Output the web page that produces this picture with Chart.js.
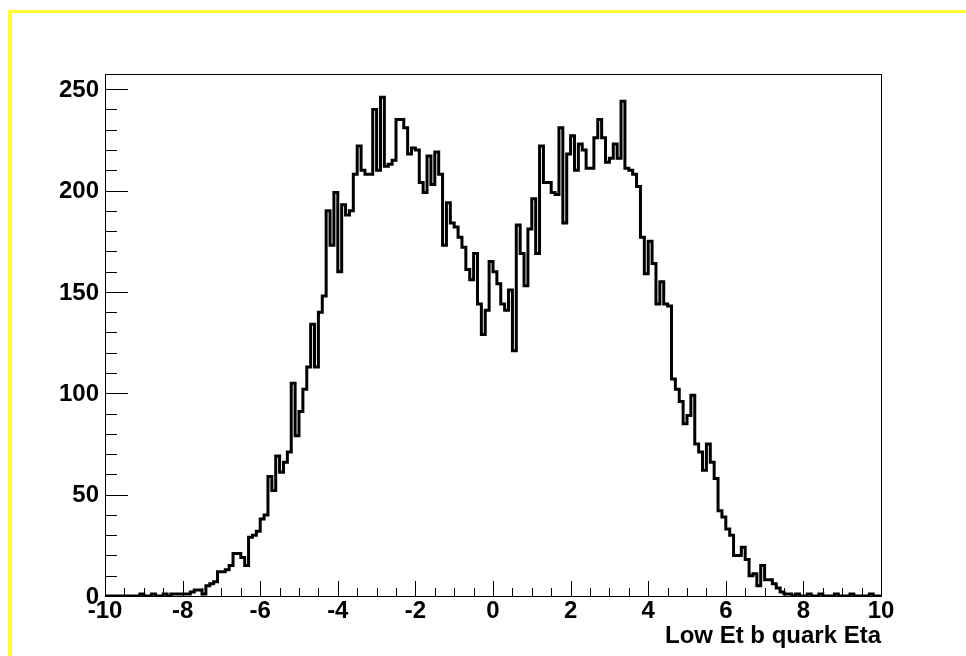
<!DOCTYPE html>
<html lang="en">
<head>
    <meta charset="UTF-8">
    <title>Low Et b quark Eta</title>
    <script src="https://cdn.jsdelivr.net/npm/chart.js@4.4.1/dist/chart.umd.min.js"></script>
    <style>
        html, body {
            margin: 0;
            padding: 0;
            background: #ffffff;
        }
        .page {
            position: relative;
            width: 966px;
            height: 656px;
            overflow: hidden;
        }
        .pad-border {
            position: absolute;
            left: 8px;
            top: 10px;
            width: 1100px;
            height: 800px;
            border-left: 4px solid #ffff33;
            border-top: 3px solid #ffff33;
        }
        #hist {
            position: absolute;
            left: 0;
            top: 0;
        }
    </style>
</head>
<body>
    <div class="page">
        <div class="pad-border"></div>
        <canvas id="hist" width="966" height="656"></canvas>
    </div>

    <script>
        // histogram range and contents (200 bins from -10 to 10)
        const xMin = -10;
        const xMax = 10;
        const yMin = 0;
        const yMax = 257.5;

        const counts = [
            0, 0, 0, 0, 0, 0, 0, 0, 0, 1,
            0, 0, 1, 0, 0, 1, 0, 1, 1, 1,
            1, 1, 2, 3, 3, 1, 5, 6, 7, 12,
            12, 13, 15, 21, 21, 19, 15, 29, 30, 32,
            38, 40, 59, 52, 69, 61, 66, 71, 105, 79,
            91, 102, 113, 134, 113, 140, 148, 190, 173, 199,
            160, 193, 188, 190, 208, 222, 210, 208, 208, 240,
            210, 246, 212, 213, 215, 235, 235, 231, 218, 221,
            220, 204, 199, 217, 203, 219, 208, 173, 194, 184,
            182, 177, 172, 161, 156, 169, 144, 129, 141, 165,
            160, 154, 144, 141, 151, 121, 183, 169, 153, 181,
            196, 169, 222, 204, 204, 199, 198, 231, 184, 218,
            227, 210, 223, 220, 211, 211, 226, 235, 226, 214,
            216, 223, 216, 244, 211, 210, 208, 202, 177, 159,
            175, 164, 144, 155, 144, 143, 107, 102, 96, 85,
            89, 99, 75, 71, 62, 75, 66, 58, 42, 39,
            33, 30, 20, 20, 24, 18, 10, 11, 5, 15,
            8, 8, 6, 4, 2, 1, 1, 0, 1, 0,
            0, 1, 0, 0, 1, 0, 0, 0, 1, 0,
            0, 0, 1, 0, 0, 0, 0, 1, 0, 0
        ];

        const xTickLabels = ['-10', '-8', '-6', '-4', '-2', '0', '2', '4', '6', '8', '10'];
        const yTickLabels = ['0', '50', '100', '150', '200', '250'];
        const xMinorStep = 0.5;
        const yMinorStep = 10;
        const xTitle = 'Low Et b quark Eta';

        // bin low edges, plus the last upper edge so the step closes at xMax
        const binWidth = (xMax - xMin) / counts.length;
        const points = counts.map((c, i) => ({ x: xMin + i * binWidth, y: c }));
        points.push({ x: xMax, y: counts[counts.length - 1] });

        const labelFont = 'bold 24px "Liberation Sans", Arial, sans-serif';

        // ROOT-like frame: box, inward ticks, labels and axis title
        const rootFrame = {
            id: 'rootFrame',
            afterDraw(chart) {
                const ctx = chart.ctx;
                const area = chart.chartArea;
                const xs = chart.scales.x;
                const ys = chart.scales.y;

                ctx.save();
                ctx.strokeStyle = '#000000';
                ctx.lineWidth = 1;
                ctx.strokeRect(Math.round(area.left) + 0.5, Math.round(area.top) + 0.5,
                    Math.round(area.right - area.left), Math.round(area.bottom - area.top));

                // x ticks: long ones at labelled values, short every half unit
                ctx.beginPath();
                for (let v = xMin; v <= xMax + 1e-9; v += xMinorStep) {
                    const px = Math.round(xs.getPixelForValue(v)) + 0.5;
                    const major = Math.abs(v - Math.round(v)) < 1e-9 && xTickLabels.includes(String(Math.round(v)));
                    const len = major ? 15 : 8;
                    ctx.moveTo(px, area.bottom);
                    ctx.lineTo(px, area.bottom - len);
                }
                // y ticks
                for (let v = yMin; v <= yMax + 1e-9; v += yMinorStep) {
                    const py = Math.round(ys.getPixelForValue(v)) + 0.5;
                    const major = yTickLabels.includes(String(v));
                    const len = major ? 23 : 12;
                    ctx.moveTo(area.left, py);
                    ctx.lineTo(area.left + len, py);
                }
                ctx.stroke();

                ctx.fillStyle = '#000000';
                ctx.font = labelFont;

                ctx.textAlign = 'center';
                ctx.textBaseline = 'top';
                xTickLabels.forEach(lbl => {
                    ctx.fillText(lbl, xs.getPixelForValue(parseFloat(lbl)), area.bottom + 3);
                });

                ctx.textAlign = 'right';
                ctx.textBaseline = 'middle';
                yTickLabels.forEach(lbl => {
                    ctx.fillText(lbl, area.left - 6, ys.getPixelForValue(parseFloat(lbl)) + 1);
                });

                ctx.textAlign = 'right';
                ctx.textBaseline = 'alphabetic';
                ctx.fillText(xTitle, area.right, area.bottom + 47);
                ctx.restore();
            }
        };

        new Chart(document.getElementById('hist'), {
            type: 'line',
            data: {
                datasets: [{
                    label: 'h1',
                    data: points,
                    stepped: 'before',
                    borderColor: '#000000',
                    borderWidth: 3,
                    borderJoinStyle: 'miter',
                    borderCapStyle: 'butt',
                    pointRadius: 0,
                    fill: false,
                    tension: 0
                }]
            },
            options: {
                responsive: false,
                animation: false,
                parsing: false,
                layout: {
                    padding: { left: 105, right: 85, top: 74, bottom: 60 }
                },
                plugins: {
                    legend: { display: false },
                    tooltip: { enabled: false }
                },
                scales: {
                    x: { type: 'linear', min: xMin, max: xMax, display: false },
                    y: { type: 'linear', min: yMin, max: yMax, display: false }
                }
            },
            plugins: [rootFrame]
        });
    </script>
</body>
</html>
